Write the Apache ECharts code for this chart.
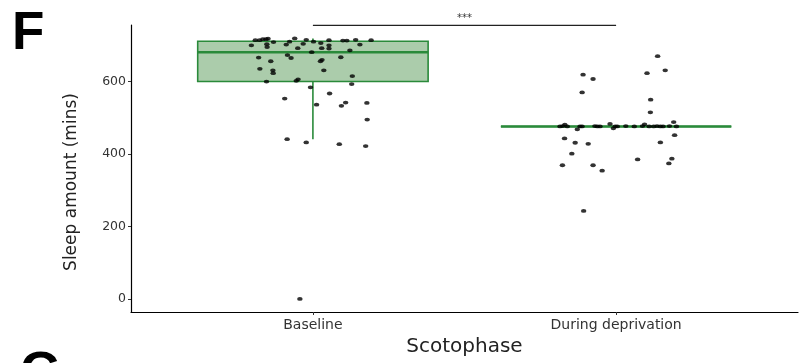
<!DOCTYPE html>
<html><head><meta charset="utf-8">
<script src="https://cdn.jsdelivr.net/npm/echarts@6/dist/echarts.min.js"></script>
<style>html,body{margin:0;padding:0;background:#fff}#c{width:803px;height:363px}</style>
</head><body><div id="c"></div>
<script>
const categories = ['Baseline', 'During deprivation'];
const yTicks = [0, 200, 400, 600];
// box stats: [min, q1, median, q3, max]
const baselineBox = [441, 600, 681, 711, 719];
const deprivationBox = [476, 476, 476, 476, 476];
// jittered points: [horizontal jitter (category units), sleep amount in mins]
const baselinePoints = [
  [-0.203,700],[-0.190,714],[-0.176,714],[-0.165,717],[-0.155,717],[-0.148,718],[-0.152,703],[-0.151,695],
  [-0.130,709],[-0.179,666],[-0.139,656],[-0.175,635],[-0.132,631],[-0.131,623],[-0.153,600],[-0.088,702],
  [-0.077,710],[-0.060,719],[-0.050,692],[-0.032,704],[-0.022,715],[-0.084,673],[-0.072,665],[-0.055,602],
  [-0.049,606],[-0.004,681],[0.002,710],[0.026,706],[0.029,692],[0.025,656],[0.030,660],[0.036,631],
  [0.053,714],[0.053,700],[0.053,691],[-0.008,584],[0.099,713],[0.112,713],[0.122,686],[0.092,667],
  [0.141,715],[0.155,702],[0.192,714],[0.130,615],[0.128,593],[0.055,567],[-0.093,553],[0.012,536],
  [0.094,533],[0.108,542],[0.178,541],[0.179,495],[-0.085,441],[-0.022,432],[0.087,427],[0.174,422],
  [-0.043,0]
];
const deprivationPoints = [
  [0.137,670],[0.162,631],[0.102,623],[-0.109,619],[-0.076,607],[-0.112,570],[0.114,550],[0.113,515],[0.190,488],
  [-0.185,476],[-0.176,477],[-0.169,481],[-0.161,476],[-0.128,468],[-0.119,476],[-0.112,476],[-0.070,477],
  [-0.062,476],[-0.053,476],[-0.020,483],[-0.009,471],[-0.003,476],[0.004,476],[0.032,477],[0.060,476],
  [0.087,477],[0.094,482],[0.109,476],[0.124,476],[0.135,477],[0.146,476],[0.155,476],[0.176,477],[0.199,476],
  [-0.170,443],[-0.135,431],[-0.092,428],[-0.146,401],[-0.177,369],[-0.076,369],[-0.046,354],[0.071,385],
  [0.146,432],[0.193,452],[0.184,387],[0.174,374],[-0.107,243]
];
const sigPair = [1, 2];
const sigY = 755;
const sigLabel = '***';
const yTitle = 'Sleep amount (mins)';
const xTitle = 'Scotophase';

const boxData = [[1].concat(baselineBox), [2].concat(deprivationBox)];
const pointData = baselinePoints.map(p => [1 + p[0], p[1]])
  .concat(deprivationPoints.map(p => [2 + p[0], p[1]]));

const GREEN = '#2a8a3a';
const chart = echarts.init(document.getElementById('c'), null, {renderer: 'canvas'});
chart.setOption({
  animation: false,
  backgroundColor: '#fff',
  grid: {left: 131, right: 5, top: 25, bottom: 51, containLabel: false},
  xAxis: {
    type: 'value', min: 0.4, max: 2.6,
    name: xTitle, nameLocation: 'middle', nameGap: 23,
    nameTextStyle: {fontFamily: 'DejaVu Sans', fontSize: 20, color: '#222'},
    axisLine: {show: true, onZero: false, lineStyle: {color: '#000', width: 1.2}},
    axisTick: {show: true, customValues: [1, 2], length: 3, lineStyle: {color: '#333'}},
    axisLabel: {customValues: [1, 2], formatter: v => categories[Math.round(v) - 1] || '',
      fontFamily: 'DejaVu Sans', fontSize: 14, color: '#333', margin: 6},
    splitLine: {show: false}
  },
  yAxis: {
    type: 'value', min: -36, max: 756,
    axisLine: {show: true, onZero: false, lineStyle: {color: '#000', width: 1.2}},
    axisTick: {show: true, customValues: yTicks, length: 3, lineStyle: {color: '#333'}},
    axisLabel: {customValues: yTicks, fontFamily: 'DejaVu Sans', fontSize: 12.5, color: '#333', margin: 5},
    splitLine: {show: false}
  },
  graphic: [
    {type: 'text', left: 12, top: 8, style: {text: 'F', font: 'bold 53px "Liberation Sans"', fill: '#000'}},
    {type: 'text', left: 20, top: 348, style: {text: 'G', font: 'bold 53px "Liberation Sans"', fill: '#000'}},
    {type: 'text', x: 72, y: 182, rotation: Math.PI / 2,
      style: {text: yTitle, font: '17px "DejaVu Sans"', fill: '#222', textAlign: 'center', textVerticalAlign: 'middle'}}
  ],
  series: [
    {
      type: 'custom', z: 2,
      data: boxData,
      renderItem: function (params, api) {
        const x = api.value(0), lo = api.value(1), q1 = api.value(2), md = api.value(3), q3 = api.value(4), hi = api.value(5);
        const c = api.coord([x, md]);
        const xl = api.coord([x - 0.38, md])[0], xr = api.coord([x + 0.38, md])[0];
        const yLo = api.coord([x, lo])[1], yQ1 = api.coord([x, q1])[1], yMd = c[1], yQ3 = api.coord([x, q3])[1], yHi = api.coord([x, hi])[1];
        const ls = {stroke: GREEN, lineWidth: 1.6};
        return {type: 'group', children: [
          {type: 'line', shape: {x1: c[0], y1: yLo, x2: c[0], y2: yQ1}, style: ls},
          {type: 'line', shape: {x1: c[0], y1: yQ3, x2: c[0], y2: yHi}, style: ls},
          {type: 'rect', shape: {x: xl, y: yQ3, width: xr - xl, height: Math.max(yQ1 - yQ3, 0)},
            style: {fill: 'rgba(46,128,46,0.4)', stroke: GREEN, lineWidth: 1.6}},
          {type: 'line', shape: {x1: xl, y1: yMd, x2: xr, y2: yMd}, style: {stroke: GREEN, lineWidth: 2.6}}
        ]};
      }
    },
    {
      type: 'scatter', z: 3,
      data: pointData,
      symbol: 'circle', symbolSize: [5.5, 3.8],
      itemStyle: {color: '#000'}
    },
    {
      type: 'custom', z: 4, clip: false,
      data: [[sigPair[0], sigPair[1], sigY]],
      renderItem: function (params, api) {
        const a = api.coord([api.value(0), api.value(2)]);
        const b = api.coord([api.value(1), api.value(2)]);
        return {type: 'group', children: [
          {type: 'line', shape: {x1: a[0], y1: a[1], x2: b[0], y2: b[1]}, style: {stroke: '#222', lineWidth: 1.4}},
          {type: 'text', x: (a[0] + b[0]) / 2, y: a[1] - 2,
            style: {text: sigLabel, fill: '#333', font: '10px "DejaVu Sans"', textAlign: 'center', textVerticalAlign: 'bottom'}}
        ]};
      }
    }
  ]
});
</script></body></html>
